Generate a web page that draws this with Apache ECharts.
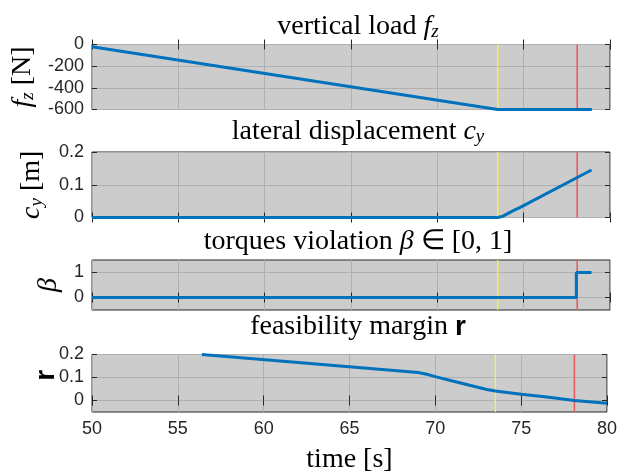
<!DOCTYPE html>
<html><head><meta charset="utf-8">
<script src="https://cdn.jsdelivr.net/npm/echarts@6/dist/echarts.min.js"></script>
<style>html,body{margin:0;padding:0;background:#fff}#c{width:620px;height:475px}</style>
</head><body><div id="c"></div>
<script>
// ---- data ----
const timeTicks = { min: 50, max: 80, step: 5 };
const eventTimes = [73.5, 78.1];          // yellow, red vertical markers

const fzTime = [50, 73.5, 78.95];
const fzVal  = [-20, -600, -600];
const fzTicks = [-600, -400, -200, 0];

const cyTime = [50, 73.5, 73.8, 74.4, 74.8, 78.93];
const cyVal  = [0, 0, 0.004, 0.021, 0.031, 0.145];
const cyTicks = [0, 0.1, 0.2];

const betaTime = [50, 78.05, 78.05, 78.93];
const betaVal  = [0, 0, 1, 1];
const betaTicks = [0, 1];

const rTime = [56.4, 69.0, 69.5, 70, 71, 72, 73, 73.5, 75, 76.5, 78.1, 80];
const rVal  = [0.2, 0.122, 0.114, 0.104, 0.085, 0.066, 0.048, 0.041, 0.027, 0.015, 0, -0.012];
const rTicks = [0, 0.1, 0.2];

// ---- styling ----
const SERIF = 'Liberation Serif';
const SANS = 'Liberation Sans';
const rich = {
  n: { fontFamily: SERIF, fontWeight: 'normal', fontSize: 28, color: '#000', lineHeight: 32, verticalAlign: 'bottom' },
  i: { fontFamily: SERIF, fontWeight: 'normal', fontStyle: 'italic', fontSize: 28, color: '#000', lineHeight: 32, verticalAlign: 'bottom' },
  s: { fontFamily: SERIF, fontWeight: 'normal', fontStyle: 'italic', fontSize: 19, color: '#000', lineHeight: 14, verticalAlign: 'bottom' },
  b: { fontFamily: SANS, fontWeight: 'bold', fontSize: 28, color: '#000', lineHeight: 32, verticalAlign: 'bottom' },
  br: { fontFamily: SANS, fontWeight: 'bold', fontSize: 28, color: '#000', lineHeight: 32, verticalAlign: 'bottom', padding: [0, 0, 0, 16] }
};

const panels = [
  { title: '{n|vertical load }{i|f}{s|z}', name: '{i|f}{s|z}{n| [N]}', min: -600, max: 0, ticks: fzTicks,
    t: fzTime, v: fzVal, top: 44.5, h: 65, titleTop: 4, nameGap: 51, move: true },
  { title: '{n|lateral displacement }{i|c}{s|y}', name: '{i|c}{s|y}{n| [m]}', min: 0, max: 0.2, ticks: cyTicks,
    t: cyTime, v: cyVal, top: 152, h: 65.5, titleTop: 109, nameGap: 46, move: true },
  { title: '{n|torques violation }{i|β}{n| ∈ [0, 1]}', name: '{i|β}', min: -0.5, max: 1.5, ticks: betaTicks,
    t: betaTime, v: betaVal, top: 260, h: 50, titleTop: 219, nameGap: 27, move: true },
  { title: '{n|feasibility margin }{b|r}', name: '{br|r}', min: -0.05, max: 0.2, ticks: rTicks,
    t: rTime, v: rVal, top: 354.5, h: 61, titleTop: 304, nameGap: 32, move: false }
];
const eventColors = ['#ffff00', '#ee5a5a'];
const eventWidths = [1.2, 1.6];

const AX = '#262626', GRIDC = '#b0b0b0';
const grids = [], xAxes = [], yAxes = [], series = [], titles = [];
panels.forEach((p, k) => {
  grids.push({ left: 92, width: 518, top: p.top, height: p.h, show: true,
    backgroundColor: '#cccccc', borderColor: AX, borderWidth: 1 });
  titles.push({ text: p.title, left: 353, top: p.titleTop, textAlign: 'center',
    textStyle: { fontWeight: 'normal', rich: rich } });
  const last = k === panels.length - 1;
  const xBase = { gridIndex: k, type: 'value', min: timeTicks.min, max: timeTicks.max, interval: timeTicks.step,
    axisLine: { show: false }, axisTick: { inside: true, length: 5, lineStyle: { color: AX } } };
  xAxes.push(Object.assign({}, xBase, { position: 'bottom',
    axisLabel: { show: last, color: AX, fontFamily: SANS, fontSize: 18, margin: 8 },
    splitLine: { show: true, lineStyle: { color: GRIDC, width: 1 } },
    name: last ? '{n|time [s]}' : '', nameLocation: 'middle', nameGap: 30,
    nameTextStyle: { rich: rich } }));
  xAxes.push(Object.assign({}, xBase, { position: 'top', axisLabel: { show: false }, splitLine: { show: false } }));
  const yBase = { gridIndex: k, type: 'value', min: p.min, max: p.max,
    axisLine: { show: false },
    axisTick: { inside: true, length: 5, lineStyle: { color: AX }, customValues: p.ticks } };
  yAxes.push(Object.assign({}, yBase, { position: 'left',
    axisLabel: { color: AX, fontFamily: SANS, fontSize: 18, margin: 8, customValues: p.ticks },
    splitLine: { show: true, lineStyle: { color: GRIDC, width: 1 } },
    name: p.name, nameLocation: 'middle', nameRotate: 90, nameGap: p.nameGap, nameMoveOverlap: p.move,
    nameTextStyle: { rich: rich } }));
  yAxes.push(Object.assign({}, yBase, { position: 'right', axisLabel: { show: false }, splitLine: { show: false } }));
  eventTimes.forEach((et, j) => {
    series.push({ type: 'line', xAxisIndex: 2 * k, yAxisIndex: 2 * k, z: 1, silent: true,
      data: [[et, p.min], [et, p.max]], showSymbol: false, animation: false,
      lineStyle: { color: eventColors[j], width: eventWidths[j] } });
  });
  series.push({ type: 'line', xAxisIndex: 2 * k, yAxisIndex: 2 * k, z: 2,
    data: p.t.map((x, i) => [x, p.v[i]]), showSymbol: false, clip: true,
    lineStyle: { color: '#0072bd', width: 3 }, animation: false });
});

const chart = echarts.init(document.getElementById('c'), null, { renderer: 'canvas' });
chart.setOption({ animation: false, backgroundColor: '#ffffff', title: titles, grid: grids,
  xAxis: xAxes, yAxis: yAxes, series: series });
</script></body></html>
